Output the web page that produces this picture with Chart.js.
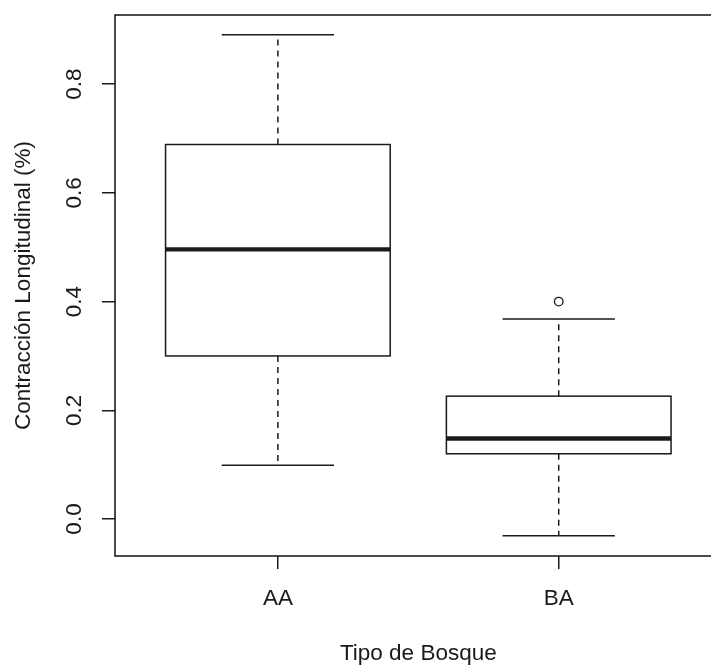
<!DOCTYPE html>
<html>
<head>
<meta charset="utf-8">
<script src="https://cdn.jsdelivr.net/npm/chart.js@4/dist/chart.umd.min.js"></script>
<style>
  html, body { margin: 0; padding: 0; background: #fff; overflow: hidden; }
  #wrap { width: 711px; height: 665px; overflow: hidden; }
</style>
</head>
<body>
<div id="wrap"><canvas id="boxChart" width="740" height="665"></canvas></div>
<script>
// values
const categories = ['AA', 'BA'];
const whiskerLow = [0.099, -0.031];
const q1 = [0.300, 0.120];
const median = [0.496, 0.148];
const q3 = [0.689, 0.226];
const whiskerHigh = [0.891, 0.368];
const outliers = [[], [0.400]];
const yTicks = [0.0, 0.2, 0.4, 0.6, 0.8];

const ink = '#1a1a1a';
const font = { family: '"Liberation Sans", Arial, sans-serif', size: 22.5 };

// boxes, whiskers and medians drawn through the scales
const boxPlugin = {
    id: 'boxes',
    beforeDatasetsDraw(chart) {
        const ctx = chart.ctx;
        const xs = chart.scales.x;
        const ys = chart.scales.y;
        const area = chart.chartArea;
        ctx.save();
        ctx.strokeStyle = ink;

        categories.forEach((c, i) => {
            const pos = i + 1;
            const cx = xs.getPixelForValue(pos);
            const bl = xs.getPixelForValue(pos - 0.4);
            const br = xs.getPixelForValue(pos + 0.4);
            const wl = xs.getPixelForValue(pos - 0.2);
            const wr = xs.getPixelForValue(pos + 0.2);
            const yLo = ys.getPixelForValue(whiskerLow[i]);
            const yQ1 = ys.getPixelForValue(q1[i]);
            const yMed = ys.getPixelForValue(median[i]);
            const yQ3 = ys.getPixelForValue(q3[i]);
            const yHi = ys.getPixelForValue(whiskerHigh[i]);

            // dashed whiskers
            ctx.lineWidth = 1.5;
            ctx.setLineDash([6, 5]);
            ctx.beginPath();
            ctx.moveTo(cx, yQ3); ctx.lineTo(cx, yHi);
            ctx.moveTo(cx, yQ1); ctx.lineTo(cx, yLo);
            ctx.stroke();
            ctx.setLineDash([]);

            // caps
            ctx.beginPath();
            ctx.moveTo(wl, yHi); ctx.lineTo(wr, yHi);
            ctx.moveTo(wl, yLo); ctx.lineTo(wr, yLo);
            ctx.stroke();

            // box
            ctx.fillStyle = '#fff';
            ctx.fillRect(bl, yQ3, br - bl, yQ1 - yQ3);
            ctx.strokeRect(bl, yQ3, br - bl, yQ1 - yQ3);

            // median
            ctx.lineWidth = 4.4;
            ctx.beginPath();
            ctx.moveTo(bl, yMed); ctx.lineTo(br, yMed);
            ctx.stroke();
        });

        // frame
        ctx.lineWidth = 1.5;
        ctx.strokeStyle = '#111';
        ctx.strokeRect(area.left, area.top, area.right - area.left, area.bottom - area.top);
        ctx.restore();
    }
};

const outlierPoints = [];
outliers.forEach((list, i) => list.forEach(v => outlierPoints.push({ x: i + 1, y: v })));

new Chart(document.getElementById('boxChart'), {
    type: 'scatter',
    data: {
        datasets: [{
            data: outlierPoints,
            pointRadius: 4.3,
            pointBorderWidth: 1.3,
            pointBorderColor: ink,
            pointBackgroundColor: '#fff'
        }]
    },
    options: {
        responsive: false,
        animation: false,
        events: [],
        layout: { padding: { top: 15, right: 740 - 721.6, bottom: 0, left: 0 } },
        plugins: { legend: { display: false }, tooltip: { enabled: false } },
        scales: {
            x: {
                type: 'linear',
                min: 0.42,
                max: 2.58,
                afterBuildTicks: s => { s.ticks = categories.map((c, i) => ({ value: i + 1 })); },
                afterFit: s => { s.height = 109; s.paddingLeft = 0; s.paddingRight = 0; },
                ticks: {
                    callback: (v, idx) => categories[idx],
                    font: font,
                    color: ink,
                    padding: 16,
                    maxRotation: 0
                },
                grid: { drawOnChartArea: false, drawTicks: true, tickLength: 13, color: ink, lineWidth: 1.5 },
                border: { display: false },
                title: { display: true, text: 'Tipo de Bosque', font: font, color: ink, padding: { top: 0, bottom: -2 } }
            },
            y: {
                min: -0.0681,
                max: 0.9273,
                afterBuildTicks: s => { s.ticks = yTicks.map(v => ({ value: v })); },
                afterFit: s => { s.width = 115; s.paddingTop = 0; s.paddingBottom = 0; },
                ticks: {
                    callback: v => v.toFixed(1),
                    font: font,
                    color: ink,
                    padding: 12,
                    minRotation: 90,
                    maxRotation: 90,
                    crossAlign: 'center'
                },
                grid: { drawOnChartArea: false, drawTicks: true, tickLength: 13, color: ink, lineWidth: 1.5 },
                border: { display: false },
                title: { display: true, text: 'Contracción Longitudinal (%)', font: font, color: ink, padding: { top: 10, bottom: 0 } }
            }
        }
    },
    plugins: [boxPlugin]
});
</script>
</body>
</html>
